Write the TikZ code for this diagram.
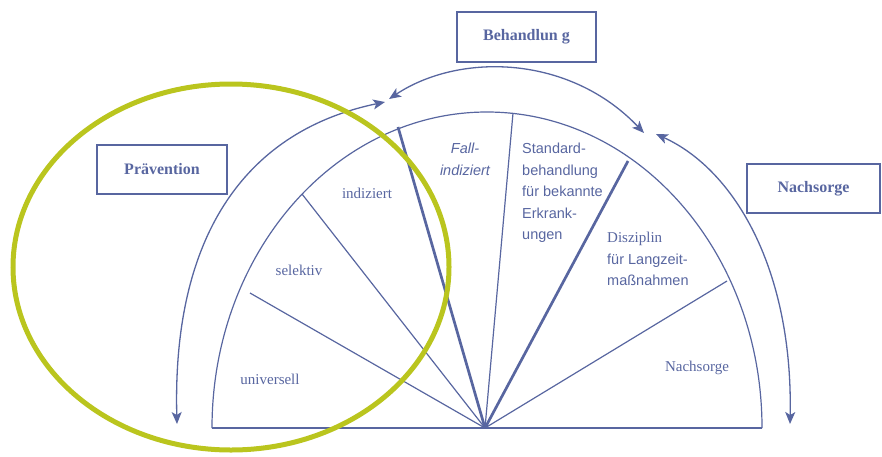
\documentclass[tikz,border=0pt]{standalone}
\usepackage{fontspec}
\setmainfont{Liberation Serif}
\setsansfont{Liberation Sans}
\usetikzlibrary{arrows.meta}
\definecolor{ink}{RGB}{88,102,160}
\definecolor{lime}{RGB}{186,197,30}
\begin{document}
\begin{tikzpicture}[x=1pt,y=-1pt,
  sector/.style={draw=ink,line width=1.2pt},
  divider/.style={draw=ink,line width=2.7pt},
  tip/.tip={Stealth[length=12pt,width=10pt,inset=3pt]},
  cyclearrow/.style={draw=ink,line width=1.3pt,tip-tip},
  labelbox/.style={draw=ink,line width=1.3pt,text=ink,inner sep=0pt,
    font=\fontsize{16}{19}\selectfont\bfseries},
  seriflabel/.style={text=ink,inner sep=0pt,font=\fontsize{15}{18}\selectfont},
  sanslabel/.style={text=ink,inner sep=0pt,align=left,
    font=\sffamily\fontsize{14.5}{21.5}\selectfont},
]
\useasboundingbox (0,0) rectangle (882,456);

% phase boxes
\node[labelbox,minimum width=139pt,minimum height=50pt] (behandlung) at (526.5,37) {Behandlun g};
\node[labelbox,minimum width=130pt,minimum height=49pt] (praevention) at (162,169.5) {Prävention};
\node[labelbox,minimum width=133pt,minimum height=49pt] (nachsorgebox) at (813.5,188.5) {Nachsorge};

% half-disc of care stages
\coordinate (O) at (485,428);
\coordinate (L) at (212,428);
\coordinate (R) at (762,428);
\draw[sector] (L) -- (R);
\draw[sector] (L) arc[start angle=180,end angle=0,x radius=275pt,y radius=316pt];

\coordinate (s1) at (250,293);
\coordinate (s2) at (302,194);
\coordinate (s3) at (398,127);
\coordinate (s4) at (513,113);
\coordinate (s5) at (628,161);
\coordinate (s6) at (727,281);
\draw[sector] (O) -- (s1);
\draw[sector] (O) -- (s2);
\draw[divider] (O) -- (s3);
\draw[sector] (O) -- (s4);
\draw[divider] (O) -- (s5);
\draw[sector] (O) -- (s6);

% sector labels
\node[seriflabel] (universell) at (270,379) {universell};
\node[seriflabel] (selektiv) at (299,270) {selektiv};
\node[seriflabel] (indiziert) at (367,193) {indiziert};
\node[sanslabel,align=center,font=\sffamily\itshape\fontsize{14.5}{22}\selectfont] (fall) at (465,159) {Fall-\\indiziert};
\node[sanslabel,anchor=west] (standard) at (522,193) {Standard-\\behandlung\\für bekannte\\Erkrank-\\ungen};
\node[sanslabel,anchor=west] (disziplin) at (607,259) {{\rmfamily\fontsize{15}{18}\selectfont Disziplin}\\für Langzeit-\\maßnahmen};
\node[seriflabel] (nachsorge) at (697,368) {Nachsorge};

% phase arrows
\coordinate (a1) at (177,424);
\coordinate (a2) at (385,102);
\coordinate (b1) at (389,99);
\coordinate (b2) at (644,133);
\coordinate (c1) at (656,134);
\coordinate (c2) at (790,424);
\draw[cyclearrow] (a1) .. controls (172,230) and (250,130) .. (a2);
\draw[cyclearrow] (b1) .. controls (460,52) and (570,55) .. (b2);
\draw[cyclearrow] (c1) .. controls (735,170) and (793,270) .. (c2);

% prevention highlight
\draw[lime,line width=5pt] (231,267) ellipse[x radius=218pt,y radius=183pt];
\end{tikzpicture}
\end{document}
